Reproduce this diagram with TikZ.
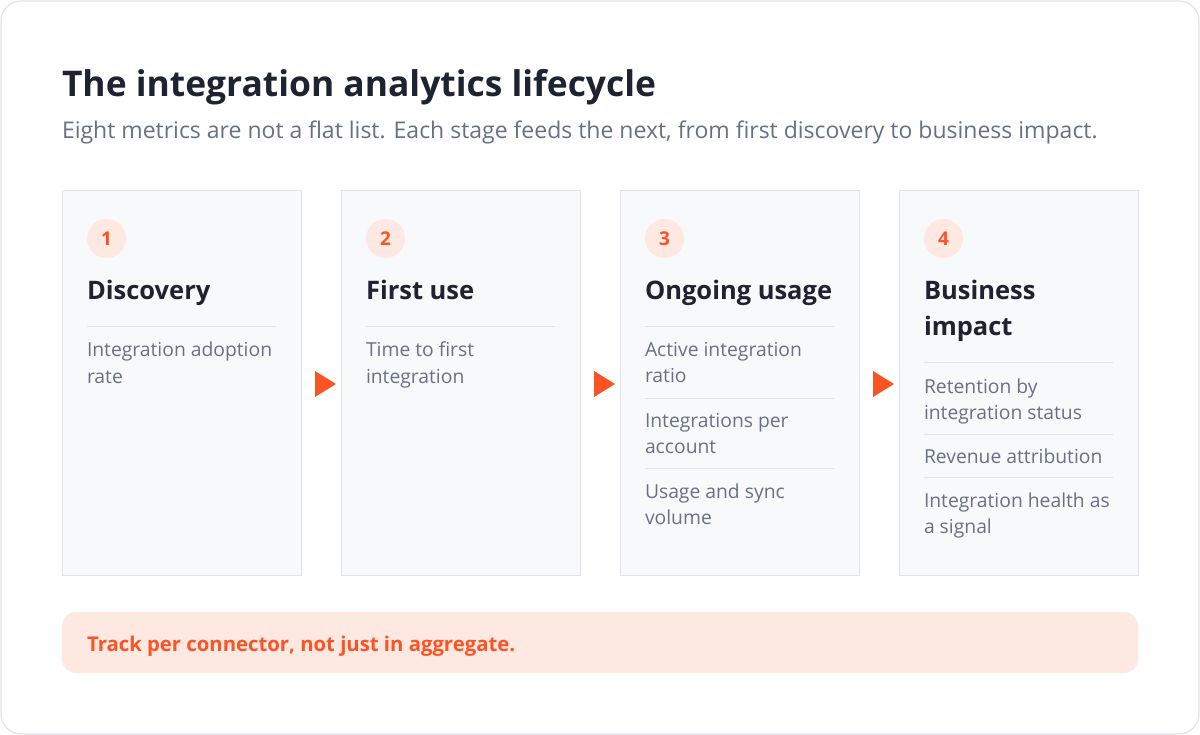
\documentclass[tikz,border=0pt]{standalone}
\usepackage{fontspec}
\setmainfont{Open Sans}
\definecolor{ink}{HTML}{1F2230}
\definecolor{muted}{HTML}{687085}
\definecolor{accent}{HTML}{FA5424}
\definecolor{peach}{HTML}{FDE8E2}
\definecolor{cardbg}{HTML}{F8F9FB}
\definecolor{cardline}{HTML}{E1E4E9}
\definecolor{frameline}{HTML}{E3E4E8}
\tikzset{
  txt/.style={anchor=base west, inner sep=0pt, outer sep=0pt},
  titletxt/.style={txt, text=ink, font=\fontsize{35.4}{42}\selectfont\bfseries},
  subtxt/.style={txt, text=muted, font=\fontsize{23}{28}\selectfont},
  stagetxt/.style={txt, text=ink, font=\fontsize{25.5}{30}\selectfont\bfseries},
  metrictxt/.style={txt, text=muted, font=\fontsize{19.3}{24}\selectfont},
  bannertxt/.style={txt, text=accent, font=\fontsize{20.3}{24}\selectfont\bfseries},
  cardbox/.style={draw=cardline, fill=cardbg, line width=1pt},
  divider/.style={draw=cardline, line width=1pt},
  numcirc/.style={circle, fill=peach, text=accent, minimum size=39pt, inner sep=0pt, font=\fontsize{19}{22}\selectfont\bfseries},
  flowtri/.style={fill=accent},
}
\begin{document}
\begin{tikzpicture}[x=1pt,y=-1pt]
\useasboundingbox (0,0) rectangle (1200,735);
\draw[draw=frameline, fill=white, rounded corners=20pt, line width=1.2pt] (1,1) rectangle (1199,734);

\node[titletxt] (title) at (62,97) {The integration analytics lifecycle};
\node[subtxt] (subtitle) at (62,138.5) {Eight metrics are not a flat list. Each stage feeds the next, from first discovery to business impact.};

% cards
\draw[cardbox] (62,191) rectangle (301,575);
\draw[cardbox] (341,191) rectangle (580,575);
\draw[cardbox] (620,191) rectangle (859,575);
\draw[cardbox] (899,191) rectangle (1138,575);

% flow triangles
\fill[flowtri] (315,371) -- (336,384) -- (315,397) -- cycle;
\fill[flowtri] (594,371) -- (615,384) -- (594,397) -- cycle;
\fill[flowtri] (873,371) -- (894,384) -- (873,397) -- cycle;

% card 1
\node[numcirc] (n1) at (106.5,238.5) {1};
\node[stagetxt] (s1) at (87,300) {Discovery};
\draw[divider] (87,327) -- (276,327);
\node[metrictxt] (m1a) at (87,357) {Integration adoption};
\node[metrictxt] (m1b) at (87,384) {rate};

% card 2
\node[numcirc] (n2) at (385.5,238.5) {2};
\node[stagetxt] (s2) at (366,300) {First use};
\draw[divider] (366,327) -- (555,327);
\node[metrictxt] (m2a) at (366,357) {Time to first};
\node[metrictxt] (m2b) at (366,384) {integration};

% card 3
\node[numcirc] (n3) at (664.5,238.5) {3};
\node[stagetxt] (s3) at (645,300) {Ongoing usage};
\draw[divider] (645,327) -- (834,327);
\node[metrictxt] (m3a) at (645,357) {Active integration};
\node[metrictxt] (m3b) at (645,383) {ratio};
\draw[divider] (645,398) -- (834,398);
\node[metrictxt] (m3c) at (645,427) {Integrations per};
\node[metrictxt] (m3d) at (645,453) {account};
\draw[divider] (645,468) -- (834,468);
\node[metrictxt] (m3e) at (645,498) {Usage and sync};
\node[metrictxt] (m3f) at (645,524) {volume};

% card 4
\node[numcirc] (n4) at (943.5,238.5) {4};
\node[stagetxt] (s4a) at (924,300) {Business};
\node[stagetxt] (s4b) at (924,336) {impact};
\draw[divider] (924,363) -- (1113,363);
\node[metrictxt] (m4a) at (924,393) {Retention by};
\node[metrictxt] (m4b) at (924,420) {integration status};
\draw[divider] (924,434) -- (1113,434);
\node[metrictxt] (m4c) at (924,463) {Revenue attribution};
\draw[divider] (924,477) -- (1113,477);
\node[metrictxt] (m4d) at (924,507) {Integration health as};
\node[metrictxt] (m4e) at (924,533) {a signal};

% banner
\fill[peach, rounded corners=14pt] (62,612) rectangle (1138,673);
\node[bannertxt] (banner) at (87,651) {Track per connector, not just in aggregate.};
\end{tikzpicture}
\end{document}
